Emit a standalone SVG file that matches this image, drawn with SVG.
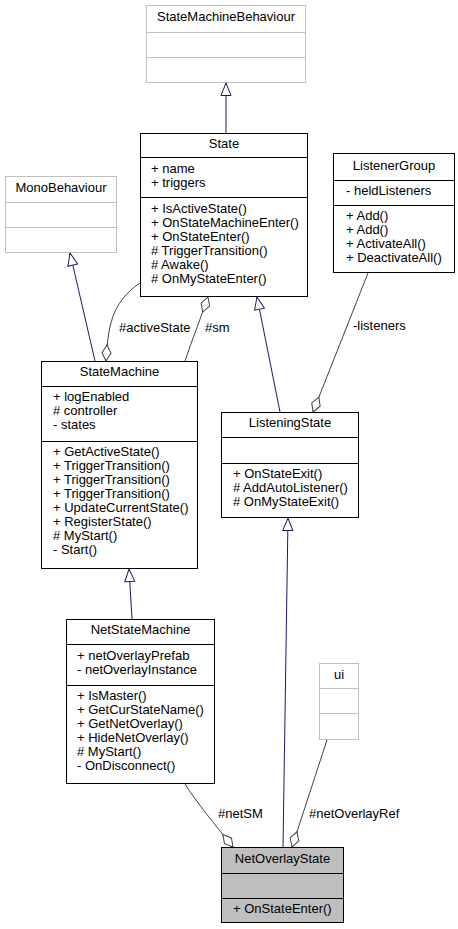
<svg xmlns="http://www.w3.org/2000/svg" width="458" height="929" viewBox="0 0 458 929">
<defs>
<style>
.box{fill:#fff;stroke:#000;stroke-width:1}
.gbox{fill:#fff;stroke:#bfbfbf;stroke-width:1}
.sel{fill:#bfbfbf;stroke:#000;stroke-width:1}
.div{stroke:#000;stroke-width:1}
.gdiv{stroke:#bfbfbf;stroke-width:1}
.t{font-family:"Liberation Sans",Arial,sans-serif;font-size:13px;fill:#000}
.c{text-anchor:middle}
.inh{stroke:#191970;fill:none;stroke-width:1}
.asc{stroke:#404040;fill:none;stroke-width:1}
</style>
<marker id="tri" markerUnits="userSpaceOnUse" markerWidth="14" markerHeight="12" refX="13" refY="6" orient="auto" overflow="visible"><path d="M0.5,1 L13,6 L0.5,11 Z" fill="#fff" stroke="#191970"/></marker>
<marker id="dia" markerUnits="userSpaceOnUse" markerWidth="18" markerHeight="12" refX="0.5" refY="6" orient="auto" overflow="visible"><path d="M0.5,6 L8.5,1.5 L16.5,6 L8.5,10.5 Z" fill="#fff" stroke="#404040"/></marker>
</defs>
<g id="connectors">
<path class="inh" d="M226,133 L226,83" marker-end="url(#tri)"/>
<path class="inh" d="M95,361 L70,253" marker-end="url(#tri)"/>
<path class="inh" d="M280,412 L257,297" marker-end="url(#tri)"/>
<path class="inh" d="M132,619 L129,569" marker-end="url(#tri)"/>
<path class="inh" d="M283,847 L288,518" marker-end="url(#tri)"/>
<path class="asc" d="M106,361 C108,330 110,303 140,283" marker-start="url(#dia)"/>
<path class="asc" d="M208,297 C200,320 192,340 185,361" marker-start="url(#dia)"/>
<path class="asc" d="M313,412 L368,273" marker-start="url(#dia)"/>
<path class="asc" d="M233,847 C215,825 195,800 185,784" marker-start="url(#dia)"/>
<path class="asc" d="M292,847 L327,740" marker-start="url(#dia)"/>
<text class="t" x="119" y="332">#activeState</text>
<text class="t" x="205" y="332">#sm</text>
<text class="t" x="353" y="330">-listeners</text>
<text class="t" x="218" y="818">#netSM</text>
<text class="t" x="309" y="818">#netOverlayRef</text>
</g>
<g id="StateMachineBehaviour">
<rect class="gbox" x="146.5" y="5.5" width="159" height="77"/>
<line class="gdiv" x1="146.5" y1="32.5" x2="305.5" y2="32.5"/>
<line class="gdiv" x1="146.5" y1="57.5" x2="305.5" y2="57.5"/>
<text class="t c" x="226" y="21">StateMachineBehaviour</text>
</g>
<g id="State">
<rect class="box" x="140.5" y="133.5" width="167" height="163"/>
<line class="div" x1="140.5" y1="157.5" x2="307.5" y2="157.5"/>
<line class="div" x1="140.5" y1="197.5" x2="307.5" y2="197.5"/>
<text class="t c" x="224" y="148">State</text>
<text class="t" x="151" y="173">+ name</text>
<text class="t" x="151" y="187">+ triggers</text>
<text class="t" x="151" y="213">+ IsActiveState()</text>
<text class="t" x="151" y="227">+ OnStateMachineEnter()</text>
<text class="t" x="151" y="241">+ OnStateEnter()</text>
<text class="t" x="151" y="255"># TriggerTransition()</text>
<text class="t" x="151" y="269"># Awake()</text>
<text class="t" x="151" y="283"># OnMyStateEnter()</text>
</g>
<g id="MonoBehaviour">
<rect class="gbox" x="5.5" y="176.5" width="111" height="76"/>
<line class="gdiv" x1="5.5" y1="202.5" x2="116.5" y2="202.5"/>
<line class="gdiv" x1="5.5" y1="227.5" x2="116.5" y2="227.5"/>
<text class="t c" x="61" y="192">MonoBehaviour</text>
</g>
<g id="ListenerGroup">
<rect class="box" x="333.5" y="153.5" width="121" height="119"/>
<line class="div" x1="333.5" y1="180.5" x2="454.5" y2="180.5"/>
<line class="div" x1="333.5" y1="205.5" x2="454.5" y2="205.5"/>
<text class="t c" x="394" y="170">ListenerGroup</text>
<text class="t" x="346" y="195">- heldListeners</text>
<text class="t" x="346" y="220">+ Add()</text>
<text class="t" x="346" y="234">+ Add()</text>
<text class="t" x="346" y="248">+ ActivateAll()</text>
<text class="t" x="346" y="262">+ DeactivateAll()</text>
</g>
<g id="StateMachine">
<rect class="box" x="41.5" y="361.5" width="156" height="207"/>
<line class="div" x1="41.5" y1="386.5" x2="197.5" y2="386.5"/>
<line class="div" x1="41.5" y1="441.5" x2="197.5" y2="441.5"/>
<text class="t c" x="119.5" y="376">StateMachine</text>
<text class="t" x="53" y="401">+ logEnabled</text>
<text class="t" x="53" y="415"># controller</text>
<text class="t" x="53" y="429">- states</text>
<text class="t" x="53" y="456">+ GetActiveState()</text>
<text class="t" x="53" y="470">+ TriggerTransition()</text>
<text class="t" x="53" y="484">+ TriggerTransition()</text>
<text class="t" x="53" y="498">+ TriggerTransition()</text>
<text class="t" x="53" y="512">+ UpdateCurrentState()</text>
<text class="t" x="53" y="526">+ RegisterState()</text>
<text class="t" x="53" y="540"># MyStart()</text>
<text class="t" x="53" y="554">- Start()</text>
</g>
<g id="ListeningState">
<rect class="box" x="221.5" y="412.5" width="137" height="105"/>
<line class="div" x1="221.5" y1="437.5" x2="358.5" y2="437.5"/>
<line class="div" x1="221.5" y1="463.5" x2="358.5" y2="463.5"/>
<text class="t c" x="290" y="427">ListeningState</text>
<text class="t" x="233" y="478">+ OnStateExit()</text>
<text class="t" x="233" y="492"># AddAutoListener()</text>
<text class="t" x="233" y="506"># OnMyStateExit()</text>
</g>
<g id="NetStateMachine">
<rect class="box" x="66.5" y="619.5" width="148" height="164"/>
<line class="div" x1="66.5" y1="644.5" x2="214.5" y2="644.5"/>
<line class="div" x1="66.5" y1="685.5" x2="214.5" y2="685.5"/>
<text class="t c" x="140.5" y="634">NetStateMachine</text>
<text class="t" x="77" y="660">+ netOverlayPrefab</text>
<text class="t" x="77" y="674">- netOverlayInstance</text>
<text class="t" x="77" y="700">+ IsMaster()</text>
<text class="t" x="77" y="714">+ GetCurStateName()</text>
<text class="t" x="77" y="728">+ GetNetOverlay()</text>
<text class="t" x="77" y="742">+ HideNetOverlay()</text>
<text class="t" x="77" y="756"># MyStart()</text>
<text class="t" x="77" y="770">- OnDisconnect()</text>
</g>
<g id="ui">
<rect class="gbox" x="319.5" y="663.5" width="39" height="76"/>
<line class="gdiv" x1="319.5" y1="688.5" x2="358.5" y2="688.5"/>
<line class="gdiv" x1="319.5" y1="713.5" x2="358.5" y2="713.5"/>
<text class="t c" x="339" y="679">ui</text>
</g>
<g id="NetOverlayState">
<rect class="sel" x="221.5" y="847.5" width="122" height="75"/>
<line class="div" x1="221.5" y1="873.5" x2="343.5" y2="873.5"/>
<line class="div" x1="221.5" y1="898.5" x2="343.5" y2="898.5"/>
<text class="t c" x="282.5" y="863">NetOverlayState</text>
<text class="t" x="233" y="913">+ OnStateEnter()</text>
</g>
</svg>
